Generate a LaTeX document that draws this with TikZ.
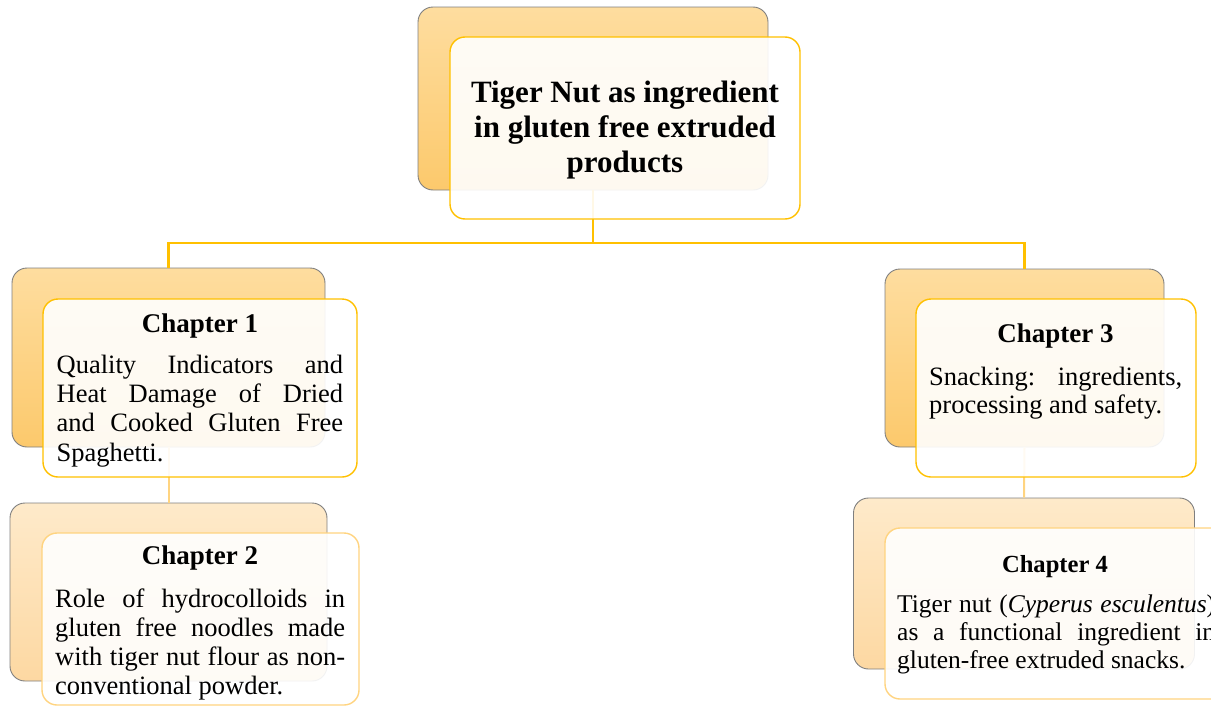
\documentclass[tikz,border=0pt]{standalone}
\usepackage{fontspec}
\setmainfont{Liberation Serif}
\definecolor{gold}{HTML}{FFC000}
\definecolor{goldL}{HTML}{FFD480}
\definecolor{bgray}{HTML}{7F7F7F}
\definecolor{oTop}{HTML}{FEDD9F}
\definecolor{oBot}{HTML}{FCC96C}
\definecolor{pTop}{HTML}{FEEACA}
\definecolor{pBot}{HTML}{FDD8A2}
\tikzset{
  backA/.style={rectangle, draw=bgray, line width=0.9pt, rounded corners=15pt, top color=oTop, bottom color=oBot, inner sep=0pt},
  backB/.style={rectangle, draw=bgray, line width=0.9pt, rounded corners=15pt, top color=pTop, bottom color=pBot, inner sep=0pt},
  frontA/.style={rectangle, draw=gold, line width=1.4pt, rounded corners=15pt, fill=white, fill opacity=0.9, inner sep=0pt},
  frontB/.style={rectangle, draw=goldL, line width=1.4pt, rounded corners=15pt, fill=white, fill opacity=0.9, inner sep=0pt},
  conn/.style={draw=gold, line width=2.6pt},
  connL/.style={draw=goldL, line width=2pt},
  ttl/.style={inner sep=0pt, anchor=base, font=\bfseries\fontsize{31}{35}\selectfont},
  head/.style={inner sep=0pt, anchor=base, font=\bfseries\fontsize{27}{30}\selectfont},
  body/.style={inner sep=0pt, anchor=base west}
}
\newcommand{\jpar}[4]{\parbox[t]{#1}{\fontsize{#2}{#3}\selectfont\tolerance=10000\hbadness=10000\hfuzz=20pt\hyphenpenalty=10000\exhyphenpenalty=10000 #4}}
\begin{document}
\begin{tikzpicture}[x=1pt,y=-1pt]
\useasboundingbox (0,0) rectangle (1211,707);
\clip (0,0) rectangle (1211,707);
\coordinate (hub) at (593,243);
% back boxes
\node[backA, minimum width=350pt, minimum height=183pt] (topB) at (593,98.5) {};
\node[backA, minimum width=313pt, minimum height=179pt] (ch1B) at (168.5,357.5) {};
\node[backB, minimum width=317pt, minimum height=178pt] (ch2B) at (168.5,592) {};
\node[backA, minimum width=279pt, minimum height=178pt] (ch3B) at (1024.5,358) {};
\node[backB, minimum width=341pt, minimum height=171pt] (ch4B) at (1024,583.5) {};
% connectors
\draw[conn] (topB.south) -- (hub);
\draw[conn] (ch1B.north) |- (hub) -| (ch3B.north);
\draw[connL] (ch1B.south) -- (ch2B.north);
\draw[connL] (ch3B.south) -- (ch4B.north);
% front boxes
\node[frontA, minimum width=350pt, minimum height=182pt] (topF) at (625,128) {};
\node[frontA, minimum width=314pt, minimum height=178pt] (ch1F) at (200,388) {};
\node[frontB, minimum width=317pt, minimum height=172pt] (ch2F) at (200.5,619) {};
\node[frontA, minimum width=280pt, minimum height=178pt] (ch3F) at (1056,388) {};
\node[frontB, minimum width=341pt, minimum height=171pt] (ch4F) at (1055.5,613.5) {};
% texts
\node[ttl] (title) at (625,102) {\parbox[t]{330pt}{\centering Tiger Nut as ingredient\\in gluten free extruded\\products}};
\node[head] (h1) at (200,332) {Chapter 1};
\node[body] (b1) at (56.5,373) {\jpar{286.5pt}{26.5}{29.4pt}{Quality Indicators and\linebreak Heat Damage of Dried\linebreak and Cooked Gluten Free\linebreak Spaghetti.}};
\node[head] (h2) at (200,564) {Chapter 2};
\node[body] (b2) at (55,607) {\jpar{290pt}{26.5}{29pt}{Role of hydrocolloids in\linebreak gluten free noodles made\linebreak with tiger nut flour as non-\linebreak conventional powder.}};
\node[head] (h3) at (1055.5,342) {Chapter 3};
\node[body] (b3) at (929,385) {\jpar{253pt}{26.5}{28pt}{Snacking: ingredients,\linebreak processing and safety.}};
\node[head, font=\bfseries\fontsize{24.6}{28}\selectfont] (h4) at (1055,572) {Chapter 4};
\node[body] (b4) at (897,612) {\jpar{318pt}{25.5}{28pt}{Tiger nut (\textit{Cyperus esculentus})\linebreak as a functional ingredient in\linebreak gluten-free extruded snacks.}};
\end{tikzpicture}
\end{document}
